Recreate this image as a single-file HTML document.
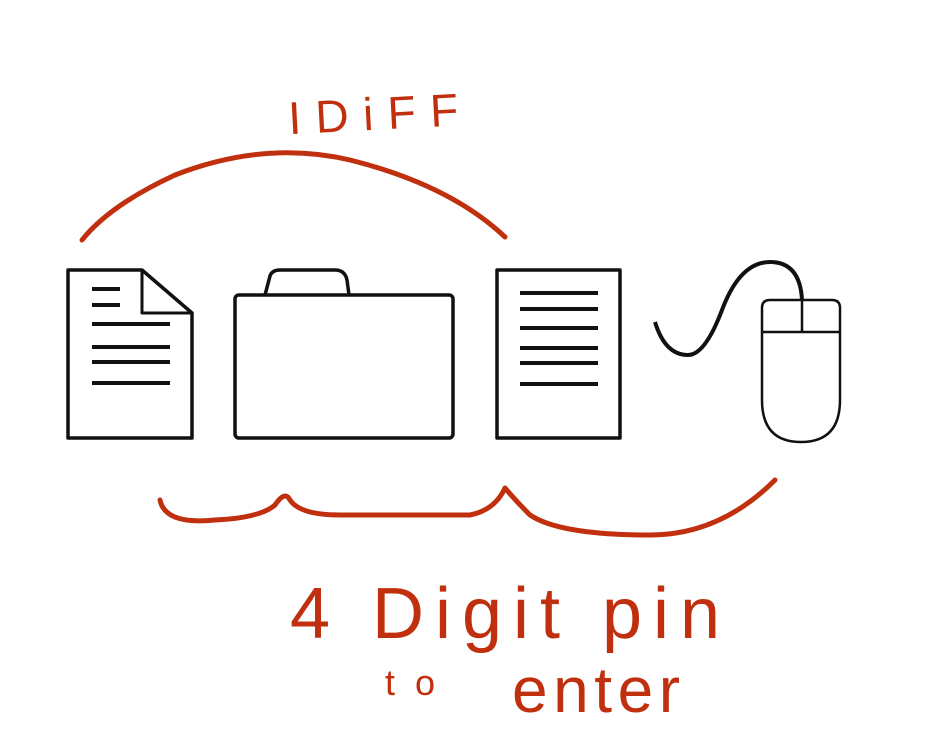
<!DOCTYPE html>
<html><head><style>
html,body{margin:0;padding:0;background:#fff;}
svg{display:block;}
</style></head><body>
<svg width="947" height="742" viewBox="0 0 947 742" xmlns="http://www.w3.org/2000/svg">
<g fill="none" stroke="#111" stroke-width="3.5" stroke-linejoin="round">
 <path d="M68 270 H142 L192 313 V438 H68 Z"/>
 <path d="M142 270 V313 H192" stroke-width="3"/>
 <g stroke-width="4">
  <path d="M92 289 H120 M92 305 H120 M92 324 H170 M92 347 H170 M92 362 H170 M92 383 H170"/>
 </g>
 <rect x="235" y="295" width="218" height="143" rx="4"/>
 <path d="M265 295 L270 276 Q272 270 280 270 H335 Q345 270 347 280 L349 295"/>
 <rect x="497" y="270" width="123" height="168"/>
 <g stroke-width="4">
  <path d="M520 293 H598 M520 309 H598 M520 328 H598 M520 348 H598 M520 363 H598 M520 384 H598"/>
 </g>
 <path d="M762 308 Q762 300 770 300 H832 Q840 300 840 308 V400 Q840 442 801 442 Q762 442 762 400 Z" stroke-width="2.5"/>
 <path d="M762 332 H840 M802 300 V332" stroke-width="2.5"/>
 <path d="M802 300 Q800 262 770 262 Q740 262 722 310 Q705 355 688 355 Q665 355 655 322" stroke-width="4"/>
</g>
<g fill="none" stroke="#c0300e" stroke-width="5" stroke-linecap="round" stroke-linejoin="round">
 <path d="M82 240 Q110 205 175 175 Q265 140 350 160 Q450 185 505 237"/>
 <path d="M160 500 Q165 525 215 520 Q260 518 275 505 Q285 490 290 500 Q300 515 340 515 H470 Q495 510 505 488 Q515 500 530 515 Q560 535 650 535 Q720 535 775 480"/>
</g>
<g fill="#c0300e" font-family="Liberation Sans, sans-serif">
 <text x="288" y="130" font-size="46" textLength="170" lengthAdjust="spacing" transform="rotate(-3 370 110)">IDiFF</text>
 <text x="290" y="638" font-size="72" textLength="430" lengthAdjust="spacing">4 Digit pin</text>
 <text x="385" y="695" font-size="36" textLength="50" lengthAdjust="spacing">to</text>
 <text x="512" y="712" font-size="64" textLength="168" lengthAdjust="spacing">enter</text>
</g>
</svg>
</body></html>
